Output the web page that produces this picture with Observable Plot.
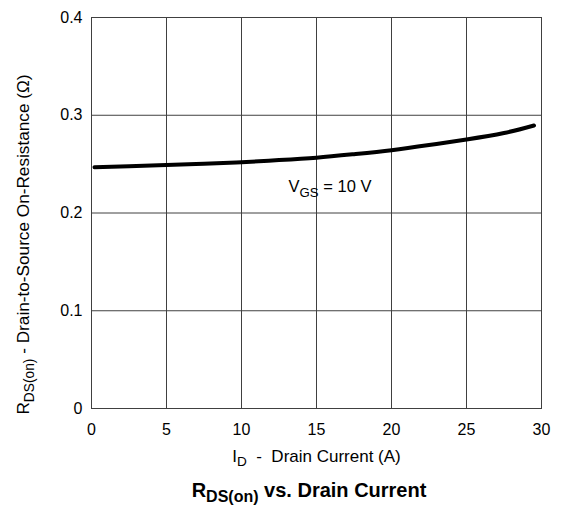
<!DOCTYPE html>
<html><head><meta charset="utf-8">
<script src="https://cdn.jsdelivr.net/npm/d3@7"></script>
<script src="https://cdn.jsdelivr.net/npm/@observablehq/plot@0.6"></script>
<style>body{margin:0;background:#fff;font-family:"Liberation Sans",Arial,sans-serif}</style>
</head><body><div id="chart"></div>
<script>
// Data
const currents    = [0.2,    2.5,    5,      7.5,    10,     12.5,   15,     17.5,   20,     22.5,   25,     27.5,   29.5];
const resistances = [0.2469, 0.2479, 0.2490, 0.2504, 0.2520, 0.2541, 0.2566, 0.2602, 0.2643, 0.2695, 0.2752, 0.2818, 0.2895];
const xTicks = [0, 5, 10, 15, 20, 25, 30];
const yTicks = [0, 0.1, 0.2, 0.3, 0.4];
const annotX = [15.9];
const annotY = [0.2265];
const annotParts = [["V", false], ["GS", true], [" = 10 V", false]];
const xLabelParts = [["I", false], ["D", true], ["  -  Drain Current (A)", false]];
const yLabelParts = [["R", false], ["DS(on)", true], [" - Drain-to-Source On-Resistance (Ω)", false]];
const titleParts = [["R", false], ["DS(on)", true], [" vs. Drain Current", false]];

const data = currents.map((c, i) => ({c, r: resistances[i]}));
const join = parts => parts.map(p => p[0]).join("");

const chart = Plot.plot({
  width: 561, height: 513,
  marginLeft: 91, marginRight: 20, marginTop: 17, marginBottom: 105,
  style: {fontFamily: "'Liberation Sans', Arial, sans-serif", fontSize: "16px", background: "white", color: "#000"},
  x: {domain: [0, 30], ticks: xTicks, tickSize: 0, tickPadding: 15, label: null},
  y: {domain: [0, 0.4], ticks: yTicks, tickSize: 0, tickPadding: 9, label: null, tickFormat: d => d === 0 ? "0" : d3.format(".1f")(d)},
  marks: [
    Plot.gridX(xTicks, {stroke: "#404040", strokeOpacity: 1, strokeWidth: 1}),
    Plot.gridY(yTicks, {stroke: "#404040", strokeOpacity: 1, strokeWidth: 1}),
    Plot.frame({stroke: "#404040", strokeWidth: 1}),
    Plot.line(data, {x: "c", y: "r", stroke: "black", strokeWidth: 4, curve: "natural"}),
    Plot.text([0], {x: () => annotX[0], y: () => annotY[0], text: () => join(annotParts), fontSize: 16.5}),
    Plot.text([0], {frameAnchor: "bottom", text: () => join(xLabelParts), dy: 53, fontSize: 17}),
    Plot.text([0], {frameAnchor: "bottom", text: () => join(titleParts), dx: -7.5, dy: 88, fontSize: 20, fontWeight: "bold"}),
    Plot.text([0], {frameAnchor: "left", textAnchor: "middle", text: () => join(yLabelParts), rotate: -90, dx: -68, dy: 31.5, fontSize: 17.2})
  ]
});
document.getElementById("chart").appendChild(chart);

function subify(parts) {
  const full = join(parts);
  d3.select(chart).selectAll("text").filter(function() { return this.textContent === full; }).each(function() {
    const t = d3.select(this);
    t.text(null);
    let shifted = false;
    parts.forEach(([s, sub]) => {
      const ts = t.append("tspan").text(s);
      if (sub && !shifted) { ts.attr("dy", "0.35em").attr("font-size", "0.8em"); shifted = true; }
      else if (!sub && shifted) { ts.attr("dy", "-0.28em"); shifted = false; }
    });
  });
}
[annotParts, xLabelParts, yLabelParts, titleParts].forEach(subify);
</script></body></html>
